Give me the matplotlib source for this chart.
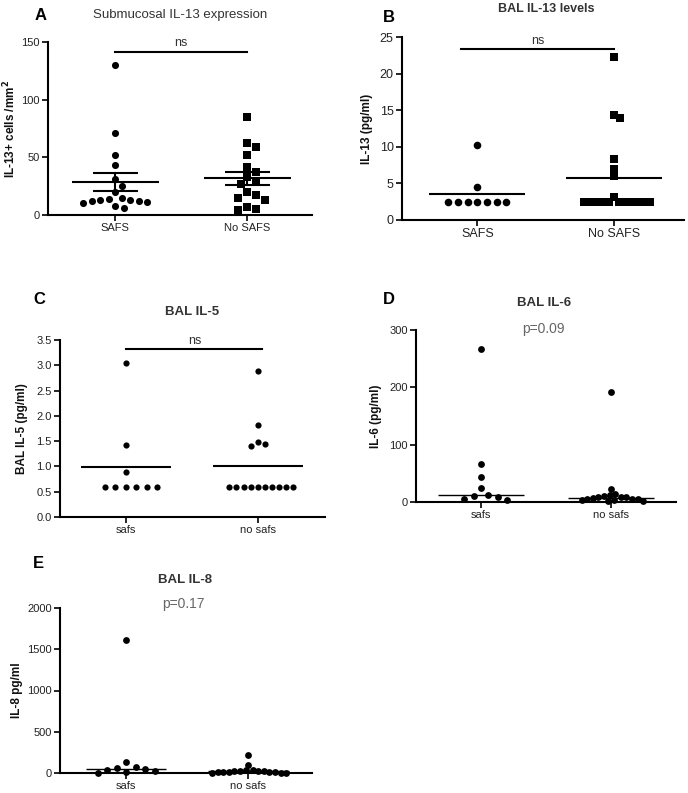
import numpy as np
import matplotlib
matplotlib.use("Agg")
import matplotlib.pyplot as plt

plt.rcParams["font.family"] = ["Liberation Sans", "DejaVu Sans"]

W, H = 688, 793

groups_upper = ["SAFS", "No SAFS"]
groups_lower = ["safs", "no safs"]

# panel A: submucosal IL-13+ cells / mm2
a_safs = [130, 71, 52, 43, 31, 25, 20, 15, 14, 13, 13, 12, 12, 11, 10, 8, 6]
a_nosafs = [85, 62, 59, 52, 42, 37, 33, 29, 27, 20, 17, 15, 13, 7, 5, 4]
# panel B: BAL IL-13 (pg/ml)
b_safs = [10.2, 4.5, 2.5, 2.5, 2.5, 2.5, 2.5, 2.5, 2.5]
b_nosafs = [22.2, 14.3, 14.0, 8.3, 7.0, 6.0, 3.1,
            2.5, 2.5, 2.5, 2.5, 2.5, 2.5, 2.5, 2.5, 2.5, 2.5, 2.5]
# panel C: BAL IL-5 (pg/ml)
c_safs = [3.05, 1.43, 0.88, 0.6, 0.6, 0.6, 0.6, 0.6, 0.6]
c_nosafs = [2.88, 1.82, 1.48, 1.45, 1.40,
            0.6, 0.6, 0.6, 0.6, 0.6, 0.6, 0.6, 0.6, 0.6, 0.6]
# panel D: BAL IL-6 (pg/ml)
d_safs = [266, 66, 43, 24, 13, 10, 9, 6, 4]
d_nosafs = [191, 22, 14, 12, 10, 9, 8, 8, 7, 6, 5, 5, 4, 3, 2, 1]
# panel E: BAL IL-8 pg/ml
e_safs = [1616, 129, 73, 60, 48, 32, 20, 12, 0]
e_nosafs = [222, 93, 40, 35, 30, 25, 22, 20, 18, 15, 12, 10, 8, 5, 3, 0]


def px_axes(x0, x1, ytop, ybot):
    """Axes rectangle from pixel coordinates (origin top-left)."""
    return [x0 / W, 1 - ybot / H, (x1 - x0) / W, (ybot - ytop) / H]


def swarm(values, center, gap, px_x, px_y):
    """Greedy beeswarm: spread points sideways so they do not overlap."""
    placed = []
    xs = []
    steps = [0]
    for k in range(1, 120):
        steps += [k * gap / 4, -k * gap / 4]
    for v in values:
        y = v * px_y
        for off in steps:
            if all((off - px) ** 2 + (y - py) ** 2 >= gap ** 2 * 0.98 for px, py in placed):
                break
        placed.append((off, y))
        xs.append(center + off / px_x)
    return xs


def panel(rect_px, xlim, ylim, yticks, data, markers, msize, gaps, labels,
          ylabel, ylab_x, stat="mean", sem=False, line_w=0.33, lw=1.5,
          tick_fs=8):
    x0, x1, ytop, ybot = rect_px
    ax = fig.add_axes(px_axes(*rect_px))
    ax.set_xlim(*xlim)
    ax.set_ylim(*ylim)
    px_x = (x1 - x0) / (xlim[1] - xlim[0])
    px_y = (ybot - ytop) / (ylim[1] - ylim[0])
    for i, (vals, mk, gap) in enumerate(zip(data, markers, gaps)):
        vals = np.array(vals, dtype=float)
        xs = swarm(vals, i, gap, px_x, px_y)
        ax.scatter(xs, vals, s=msize, marker=mk, color="black", linewidths=0,
                   zorder=3, clip_on=False)
        c = np.median(vals) if stat == "median" else vals.mean()
        ax.plot([i - line_w, i + line_w], [c, c], color="black", lw=lw,
                zorder=4, solid_capstyle="butt")
        if sem:
            s = vals.std(ddof=1) / np.sqrt(len(vals))
            for yy in (c - s, c + s):
                ax.plot([i - 0.17, i + 0.17], [yy, yy], color="black", lw=lw,
                        zorder=4, solid_capstyle="butt")
            ax.plot([i, i], [c - s, c + s], color="black", lw=lw, zorder=4)
    for sp in ("top", "right"):
        ax.spines[sp].set_visible(False)
    for sp in ("left", "bottom"):
        ax.spines[sp].set_linewidth(1.5)
    ax.set_yticks(yticks)
    ax.set_xticks([0, 1])
    ax.set_xticklabels(labels)
    ax.tick_params(axis="both", direction="out", length=4, width=1.2,
                   labelsize=tick_fs, labelcolor="#222222", pad=2)
    ax.set_ylabel(ylabel, fontsize=8.5, fontweight="bold", color="#111111")
    ax.yaxis.set_label_coords(ylab_x, 0.5)
    return ax


def ftext(x, y, s, **kw):
    fig.text(x / W, 1 - y / H, s, **kw)


fig = plt.figure(figsize=(W / 100, H / 100), dpi=100)

# A
ax = panel((48, 312, 42, 215), (-0.51, 1.49), (0, 150), [0, 50, 100, 150],
           [a_safs, a_nosafs], ["o", "s"], 26, [8.5, 9], groups_upper,
           "IL-13+ cells /mm$^\\mathbf{2}$", -0.112, sem=True)
ax.plot([0, 1], [141, 141], color="black", lw=1.5)
ax.text(0.5, 143.5, "ns", ha="center", va="bottom", fontsize=9, color="#333333")
ftext(35, 15, "A", fontsize=12, fontweight="bold", va="center")
ftext(180, 15, "Submucosal IL-13 expression", fontsize=9.5, color="#333333",
      ha="center", va="center")

# B
ax = panel((402, 684, 37, 220), (-0.55, 1.51), (0, 25), [0, 5, 10, 15, 20, 25],
           [b_safs, b_nosafs], ["o", "s"], 30, [9.7, 6.3], ["SAFS", "No SAFS"],
           "IL-13 (pg/ml)", -0.103, line_w=0.35, tick_fs=9)
ax.plot([-0.12, 1.0], [23.3, 23.3], color="black", lw=1.5)
ax.text(0.44, 23.7, "ns", ha="center", va="bottom", fontsize=9, color="#333333")
ftext(383, 18, "B", fontsize=12, fontweight="bold", va="center")
ftext(546, 9, "BAL IL-13 levels", fontsize=9, fontweight="bold", color="#333333",
      ha="center", va="center")

# C
ax = panel((60, 325, 340, 517), (-0.5, 1.51), (0, 3.5),
           [0.0, 0.5, 1.0, 1.5, 2.0, 2.5, 3.0, 3.5],
           [c_safs, c_nosafs], ["o", "o"], 20, [10.5, 7.1], groups_lower,
           "BAL IL-5 (pg/ml)", -0.121, line_w=0.34)
ax.yaxis.set_major_formatter(matplotlib.ticker.FormatStrFormatter("%.1f"))
ax.plot([0, 1.03], [3.32, 3.32], color="black", lw=1.5)
ax.text(0.52, 3.36, "ns", ha="center", va="bottom", fontsize=9, color="#333333")
ftext(33, 300, "C", fontsize=12, fontweight="bold", va="center")
ftext(192, 312, "BAL IL-5", fontsize=9.5, fontweight="bold", color="#333333",
      ha="center", va="center")

# D
ax = panel((416, 676, 330, 502), (-0.5, 1.5), (0, 300), [0, 100, 200, 300],
           [d_safs, d_nosafs], ["o", "o"], 24, [9.5, 5.6], groups_lower,
           "IL-6 (pg/ml)", -0.131, stat="median", lw=1.0, tick_fs=8)
ftext(383, 300, "D", fontsize=12, fontweight="bold", va="center")
ftext(544, 303, "BAL IL-6", fontsize=9.5, fontweight="bold", color="#333333",
      ha="center", va="center")
ftext(543, 329, "p=0.09", fontsize=10, color="#666666", ha="center", va="center")

# E
ax = panel((60, 312, 608, 773), (-0.54, 1.52), (0, 2000),
           [0, 500, 1000, 1500, 2000],
           [e_safs, e_nosafs], ["o", "o"], 24, [9.5, 5.6], groups_lower,
           "IL-8 pg/ml", -0.147, stat="median", lw=1.0, tick_fs=8)
ftext(33, 563, "E", fontsize=12, fontweight="bold", va="center")
ftext(185, 580, "BAL IL-8", fontsize=9.5, fontweight="bold", color="#333333",
      ha="center", va="center")
ftext(183, 604, "p=0.17", fontsize=10, color="#666666", ha="center", va="center")

fig.savefig("out.png", dpi=100)
